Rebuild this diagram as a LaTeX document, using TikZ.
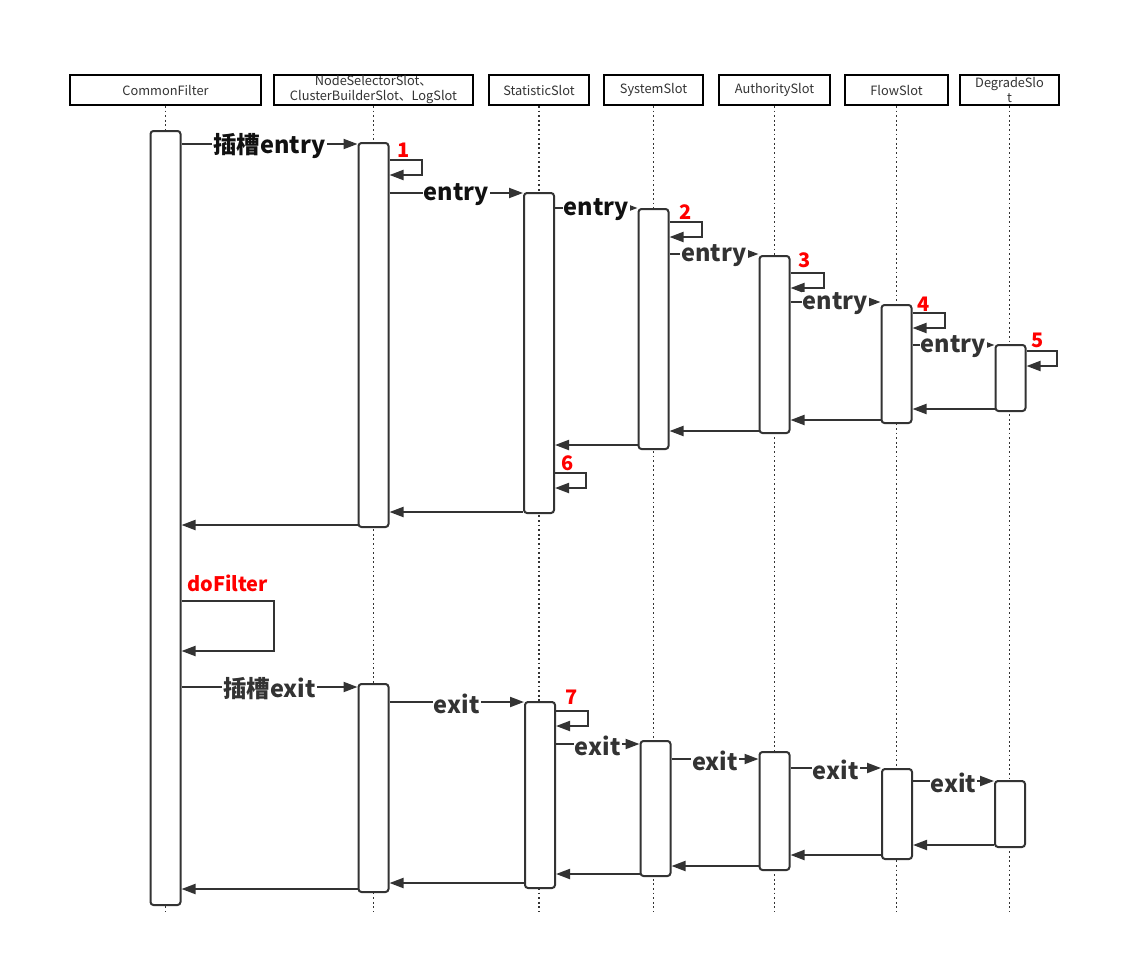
\documentclass[tikz,border=0pt]{standalone}
\usepackage{fontspec}
\setmainfont{Noto Sans CJK SC}
\usetikzlibrary{arrows.meta}
\definecolor{ln}{HTML}{333333}
\definecolor{dk}{HTML}{111111}
\definecolor{rd}{HTML}{FF0000}
\begin{document}
\begin{tikzpicture}[x=1pt,y=-1pt,
 hdr/.style={draw=black, line width=2pt, minimum height=30pt, inner sep=0pt, font=\fontsize{12.8}{15}\selectfont, text=ln, align=center},
 act/.style={draw=ln, fill=white, line width=2pt, rounded corners=3pt, minimum width=30pt, inner sep=0pt},
 life/.style={draw=ln, line width=1.8pt, dash pattern=on 1.8pt off 2.8pt},
 msg/.style={draw=ln, line width=2pt, -{Triangle[length=14pt,width=10pt]}},
 lbl/.style={fill=white, inner sep=1pt, yshift=-2pt, font=\bfseries\fontsize{23.5}{25}\selectfont, text=ln},
 lbld/.style={lbl, text=dk},
 num/.style={font=\bfseries\fontsize{20}{21}\selectfont, text=rd, inner sep=0pt},
]
\fill[white] (0,0) rectangle (1137,977);
\path[use as bounding box] (0,0) rectangle (1137,977);

% headers
\node[hdr, minimum width=191pt] (hcf) at (165.5,90) {CommonFilter};
\node[hdr, minimum width=199pt] (hns) at (373.5,90) {NodeSelectorSlot、\\ClusterBuilderSlot、LogSlot};
\node[hdr, minimum width=100pt] (hst) at (539,90) {StatisticSlot};
\node[hdr, minimum width=99pt] (hsy) at (653.5,90) {SystemSlot};
\node[hdr, minimum width=111pt] (hau) at (774.5,90) {AuthoritySlot};
\node[hdr, minimum width=103pt] (hfl) at (896.5,90) {FlowSlot};
\node[hdr, minimum width=99pt] (hdg) at (1009.5,90) {DegradeSlo\\t};

% lifeline ends
\coordinate (ecf) at (165.5,912);
\coordinate (ens) at (373.5,912);
\coordinate (est) at (539,912);
\coordinate (esy) at (653.5,912);
\coordinate (eau) at (774.5,912);
\coordinate (efl) at (896.5,912);
\coordinate (edg) at (1009.5,912);
\draw[life] (hcf.south) -- (ecf);
\draw[life] (hns.south) -- (ens);
\draw[life] (hst.south) -- (est);
\draw[life] (hsy.south) -- (esy);
\draw[life] (hau.south) -- (eau);
\draw[life] (hfl.south) -- (efl);
\draw[life] (hdg.south) -- (edg);

% activation boxes
\node[act, minimum height=774pt] (cf) at (165.5,518) {};
\node[act, minimum height=384pt] (ns1) at (373.5,335) {};
\node[act, minimum height=320pt] (st1) at (539,353) {};
\node[act, minimum height=240pt] (sy1) at (653.5,329) {};
\node[act, minimum height=177pt] (au1) at (774.5,344.5) {};
\node[act, minimum height=118pt] (fl1) at (896.5,364) {};
\node[act, minimum height=66pt] (dg1) at (1010.5,378) {};
\node[act, minimum height=208pt] (ns2) at (373.5,788) {};
\node[act, minimum height=186pt] (st2) at (540,795) {};
\node[act, minimum height=135pt] (sy2) at (655.5,808.5) {};
\node[act, minimum height=118pt] (au2) at (774.5,811) {};
\node[act, minimum height=90pt] (fl2) at (897,814) {};
\node[act, minimum height=66pt] (dg2) at (1010,814) {};

% entry phase
\draw[msg] (cf.east |- 0,144) -- node[lbld]{插槽entry} (ns1.west |- 0,144);
\draw[msg] (ns1.east |- 0,160) -- ++(32,0) |- (ns1.east |- 0,175);
\node[num] (n1) at (404,150) {1};
\draw[msg] (ns1.east |- 0,193) -- node[lbld]{entry} (st1.west |- 0,193);
\draw[msg] (st1.east |- 0,208) -- node[lbld]{entry} (sy1.west |- 0,208);
\draw[msg] (sy1.east |- 0,222) -- ++(32,0) |- (sy1.east |- 0,237);
\node[num] (n2) at (686,212) {2};
\draw[msg] (sy1.east |- 0,254) -- node[lbl]{entry} (au1.west |- 0,254);
\draw[msg] (au1.east |- 0,273) -- ++(33,0) |- (au1.east |- 0,288);
\node[num] (n3) at (805,260) {3};
\draw[msg] (au1.east |- 0,302) -- node[lbl]{entry} (fl1.west |- 0,302);
\draw[msg] (fl1.east |- 0,313) -- ++(32,0) |- (fl1.east |- 0,328);
\node[num] (n4) at (924,304) {4};
\draw[msg] (fl1.east |- 0,345) -- node[lbl]{entry} (dg1.west |- 0,345);
\draw[msg] (dg1.east |- 0,351) -- ++(30,0) |- (dg1.east |- 0,366);
\node[num] (n5) at (1038,340) {5};

% entry returns
\draw[msg] (dg1.west |- 0,409) -- (fl1.east |- 0,409);
\draw[msg] (fl1.west |- 0,420) -- (au1.east |- 0,420);
\draw[msg] (au1.west |- 0,431) -- (sy1.east |- 0,431);
\draw[msg] (sy1.west |- 0,445) -- (st1.east |- 0,445);
\draw[msg] (st1.east |- 0,473) -- ++(31,0) |- (st1.east |- 0,488);
\node[num] (n6) at (568,463) {6};
\draw[msg] (st1.west |- 0,512) -- (ns1.east |- 0,512);
\draw[msg] (ns1.west |- 0,525) -- (cf.east |- 0,525);

% doFilter
\node[num, anchor=west] (ndf) at (187,583) {doFilter};
\draw[msg] (cf.east |- 0,601) -- ++(92,0) |- (cf.east |- 0,651);

% exit phase
\draw[msg] (cf.east |- 0,687) -- node[lbl]{插槽exit} (ns2.west |- 0,687);
\draw[msg] (ns2.east |- 0,702) -- node[lbl]{exit} (st2.west |- 0,702);
\draw[msg] (st2.east |- 0,711) -- ++(32,0) |- (st2.east |- 0,726);
\node[num] (n7) at (572,697) {7};
\draw[msg] (st2.east |- 0,744) -- node[lbl]{exit} (sy2.west |- 0,744);
\draw[msg] (sy2.east |- 0,759) -- node[lbl]{exit} (au2.west |- 0,759);
\draw[msg] (au2.east |- 0,768) -- node[lbl]{exit} (fl2.west |- 0,768);
\draw[msg] (fl2.east |- 0,781) -- node[lbl]{exit} (dg2.west |- 0,781);

% exit returns
\draw[msg] (dg2.west |- 0,845) -- (fl2.east |- 0,845);
\draw[msg] (fl2.west |- 0,855) -- (au2.east |- 0,855);
\draw[msg] (au2.west |- 0,866) -- (sy2.east |- 0,866);
\draw[msg] (sy2.west |- 0,874) -- (st2.east |- 0,874);
\draw[msg] (st2.west |- 0,883) -- (ns2.east |- 0,883);
\draw[msg] (ns2.west |- 0,889) -- (cf.east |- 0,889);
\end{tikzpicture}
\end{document}
